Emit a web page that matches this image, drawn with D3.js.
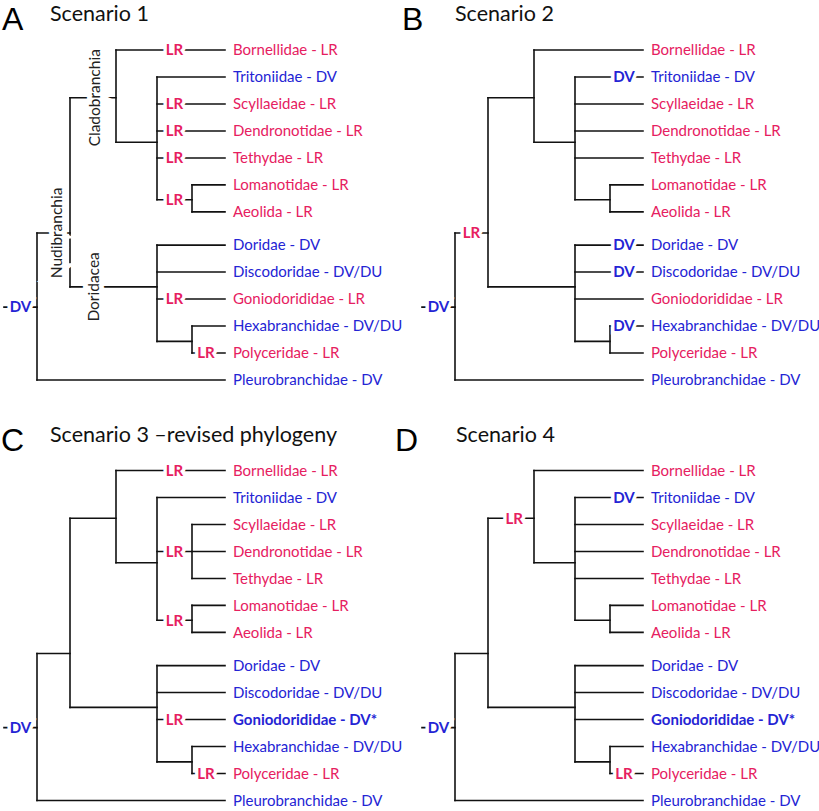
<!DOCTYPE html>
<html><head><meta charset="utf-8">
<script src="https://cdn.jsdelivr.net/npm/d3@7"></script>
<style>body{margin:0;background:#fff}svg{display:block}</style>
</head><body>
<svg id="c" width="819" height="811"></svg>
<script>
// ---------------- data ----------------
const leaves = ["Bornellidae","Tritoniidae","Scyllaeidae","Dendronotidae","Tethydae","Lomanotidae","Aeolida",
  "Doridae","Discodoridae","Goniodorididae","Hexabranchidae","Polyceridae","Pleurobranchidae"];
const leafStatesOriginal = ["LR","DV","LR","LR","LR","LR","LR","DV","DV/DU","LR","DV/DU","LR","DV"];
const leafStatesRevised  = ["LR","DV","LR","LR","LR","LR","LR","DV","DV/DU","DV*","DV/DU","LR","DV"];

// internal nodes: depth column, stem row (in leaf-row units), children
const treeOriginal = [
  {id:"root", col:0, row:9.53, kids:["Nudibranchia","Pleurobranchidae"]},
  {id:"Nudibranchia", col:1, row:6.78, kids:["Cladobranchia","Doridacea"]},
  {id:"Cladobranchia", col:2, row:1.77, kids:["Bornellidae","cladoB"]},
  {id:"cladoB", col:3, row:3.42, kids:["Tritoniidae","Scyllaeidae","Dendronotidae","Tethydae","lomAeo"]},
  {id:"lomAeo", col:4, row:5.55, kids:["Lomanotidae","Aeolida"]},
  {id:"Doridacea", col:3, row:8.78, kids:["Doridae","Discodoridae","Goniodorididae","hexPoly"]},
  {id:"hexPoly", col:4, row:10.8, kids:["Hexabranchidae","Polyceridae"]}
];
const treeRevised = [
  {id:"root", col:0, row:9.53, kids:["Nudibranchia","Pleurobranchidae"]},
  {id:"Nudibranchia", col:1, row:6.78, kids:["Cladobranchia","Doridacea"]},
  {id:"Cladobranchia", col:2, row:1.77, kids:["Bornellidae","cladoB"]},
  {id:"cladoB", col:3, row:3.42, kids:["Tritoniidae","scyDenTet","lomAeo"]},
  {id:"scyDenTet", col:4, row:3, kids:["Scyllaeidae","Dendronotidae","Tethydae"]},
  {id:"lomAeo", col:4, row:5.55, kids:["Lomanotidae","Aeolida"]},
  {id:"Doridacea", col:3, row:8.78, kids:["Doridae","Discodoridae","Goniodorididae","hexPoly"]},
  {id:"hexPoly", col:4, row:10.8, kids:["Hexabranchidae","Polyceridae"]}
];

// reconstructed ancestral states on branches: [branch, state, position along depth]
const statesS1 = [["root","DV",-0.5],["Bornellidae","LR",3.5],["Scyllaeidae","LR",3.5],["Dendronotidae","LR",3.5],
  ["Tethydae","LR",3.5],["lomAeo","LR",3.5],["Goniodorididae","LR",3.5],["Polyceridae","LR",4.42]];
const statesS2 = [["root","DV",-0.5],["Nudibranchia","LR",0.5],["Tritoniidae","DV",4.42],["Doridae","DV",4.42],
  ["Discodoridae","DV",4.42],["Hexabranchidae","DV",4.42]];
const statesS3 = [["root","DV",-0.5],["Bornellidae","LR",3.5],["scyDenTet","LR",3.5],["lomAeo","LR",3.5],
  ["Goniodorididae","LR",3.5],["Polyceridae","LR",4.42]];
const statesS4 = [["root","DV",-0.5],["Cladobranchia","LR",1.57],["Tritoniidae","DV",4.42],["Polyceridae","LR",4.42]];

const cladeNames = [["Cladobranchia",1.53],["Nudibranchia",0.58],["Doridacea",1.52]];

const panelLetters = ["A","B","C","D"];
const panelTitles = ["Scenario 1","Scenario 2","Scenario 3 \u2013revised phylogeny","Scenario 4"];

// ---------------- layout ----------------
const panels = [
  {dx:0,   dy:0,     lx:2,   tx:50,  tree:treeOriginal, leafStates:leafStatesOriginal, states:statesS1, clades:true},
  {dx:418, dy:0,     lx:-16, tx:37,  tree:treeOriginal, leafStates:leafStatesOriginal, states:statesS2, clades:false},
  {dx:0,   dy:420.5, lx:1,   tx:50,  tree:treeRevised,  leafStates:leafStatesRevised,  states:statesS3, clades:false},
  {dx:418, dy:420.5, lx:-23, tx:38,  tree:treeOriginal, leafStates:leafStatesRevised,  states:statesS4, clades:false}
];
const PINK = "#e6205f", BLUE = "#2424d4";
const colorOf = s => s.startsWith("LR") ? PINK : BLUE;
const FONT = "Lato, 'Open Sans', sans-serif";

const x = d3.scaleLinear().domain([0,1,2,3,4,5]).range([37,70,116,157,192,225]);
const y = d3.scaleLinear().domain([0,12.23]).range([50,380]);
const leafRow = i => i < 7 ? i : i + 0.23;

const svg = d3.select("#c");
svg.append("rect").attr("width",819).attr("height",811).attr("fill","#fff");

panels.forEach((p, pi) => {
  const g = svg.append("g").attr("transform", `translate(${p.dx},${p.dy})`);
  const nodes = new Map(p.tree.map(n => [n.id, n]));
  const rowOf = id => nodes.has(id) ? nodes.get(id).row : leafRow(leaves.indexOf(id));
  const colOf = id => nodes.has(id) ? nodes.get(id).col : 5;

  // panel letter + title
  g.append("text").attr("x", p.lx).attr("y", 30).text(panelLetters[pi])
    .attr("font-family","'Liberation Sans', Arial, sans-serif").attr("font-size",32).attr("fill","#000");
  g.append("text").attr("x", p.tx).attr("y", 21).text(panelTitles[pi])
    .attr("font-family",FONT).attr("font-size",21.5).attr("fill","#111");

  // branches
  const segs = [];
  p.tree.forEach(n => {
    const rows = n.kids.map(rowOf);
    segs.push([x(n.col), y(d3.min(rows)), x(n.col), y(d3.max(rows))]);
    n.kids.forEach(k => segs.push([x(n.col), y(rowOf(k)), x(colOf(k)), y(rowOf(k))]));
  });
  const root = nodes.get("root");
  segs.push([x(-1), y(root.row), x(0), y(root.row)]);
  g.append("g").selectAll("line").data(segs).join("line")
    .attr("x1", d => d[0]).attr("y1", d => d[1]).attr("x2", d => d[2]).attr("y2", d => d[3])
    .attr("stroke","#111").attr("stroke-width",1.6).attr("stroke-linecap","square");

  // leaf labels
  g.append("g").selectAll("text").data(leaves).join("text")
    .attr("x", x(5) + 8).attr("y", (d,i) => y(leafRow(i))).attr("dy","0.35em")
    .attr("font-family",FONT).attr("font-size",15)
    .attr("font-weight",(d,i) => p.leafStates[i].endsWith("*") ? "bold" : "normal")
    .attr("fill",(d,i) => colorOf(p.leafStates[i]))
    .text((d,i) => `${d} - ${p.leafStates[i]}`);

  // clade names (rotated, interrupting stems)
  if (p.clades) {
    g.append("g").selectAll("text").data(cladeNames).join("text")
      .attr("transform", d => `translate(${x(d[1])},${y(rowOf(d[0]))}) rotate(-90)`)
      .attr("text-anchor","middle").attr("dy","0.35em")
      .attr("font-family",FONT).attr("font-size",15.5).attr("fill","#222")
      .attr("stroke","#fff").attr("stroke-width",10).attr("paint-order","stroke")
      .text(d => d[0]);
  }

  // ancestral state labels on branches
  g.append("g").selectAll("text").data(p.states).join("text")
    .attr("x", d => x(d[2])).attr("y", d => y(rowOf(d[0]))).attr("dy","0.35em")
    .attr("text-anchor","middle")
    .attr("font-family",FONT).attr("font-size",15).attr("font-weight","bold")
    .attr("fill", d => colorOf(d[1]))
    .attr("stroke","#fff").attr("stroke-width",7).attr("paint-order","stroke")
    .text(d => d[1]);
});
</script>
</body></html>
